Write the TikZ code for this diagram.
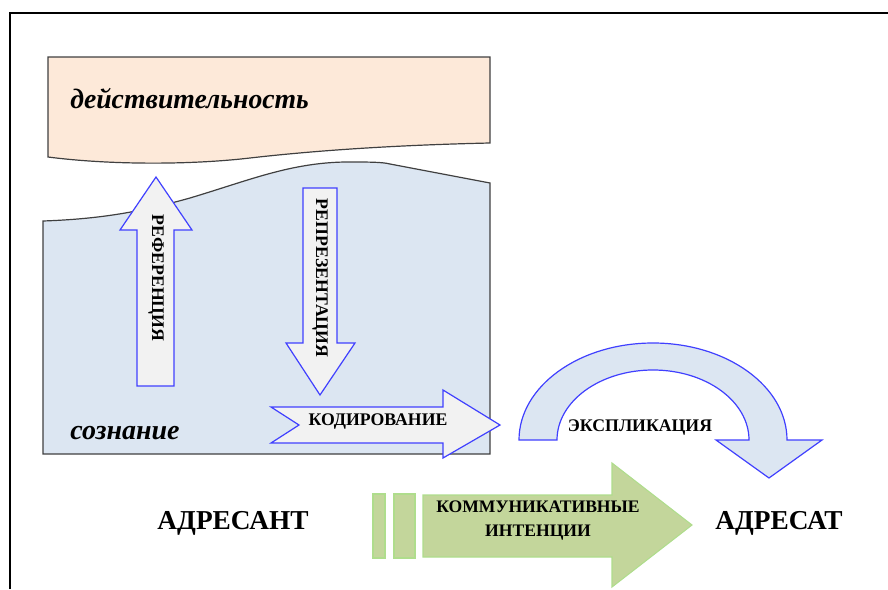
\documentclass[tikz,border=0pt]{standalone}
\usepackage{fontspec}
\setmainfont{Liberation Serif}
\begin{document}
\begin{tikzpicture}[x=0.75pt,y=-0.75pt,
  zone/.style={draw=black!75,line width=0.9pt},
  barrow/.style={draw=blue!75!white,line width=0.9pt,fill=black!5},
  garrow/.style={draw=green!40!olive!45,line width=0.8pt,fill=ggreen},
  lbl/.style={font=\bfseries\fontsize{13.3}{15}\selectfont,inner sep=0pt},
  big/.style={font=\bfseries\fontsize{20.5}{24}\selectfont,inner sep=0pt},
  ital/.style={font=\bfseries\itshape\fontsize{21}{25}\selectfont,inner sep=0pt}]
\definecolor{peach}{RGB}{253,233,217}
\definecolor{lblue}{RGB}{220,230,242}
\definecolor{ggreen}{RGB}{195,214,155}
\useasboundingbox (0,0) rectangle (888,589);
% frame
\draw[line width=1.5pt] (10,589) -- (10,13) -- (888,13);
% reality
\path[zone,fill=peach] (48,57) -- (490,57) -- (490,143)
  .. controls (400,145) and (320,150) .. (250,158)
  .. controls (190,165) and (110,165) .. (48,157) -- cycle;
\node[ital,anchor=west] (real) at (70,99) {\scalebox{0.99}[1]{действительность}};
% consciousness
\path[zone,fill=lblue] (43,221)
  .. controls (100,219) and (140,212) .. (190,198)
  .. controls (250,180) and (290,163) .. (345,162)
  .. controls (370,162) and (382,162) .. (390,164)
  -- (490,183) -- (490,454) -- (43,454) -- cycle;
\node[ital,anchor=west] (cons) at (70,433) {сознание};
% reference arrow (up)
\path[barrow] (137,386) -- (137,230) -- (120,230) -- (156,177) -- (192,230) -- (174,230) -- (174,386) -- cycle;
\node[lbl,rotate=-90] (ref) at (156,278) {РЕФЕРЕНЦИЯ};
% representation arrow (down)
\path[barrow] (303,188) -- (337,188) -- (337,343) -- (355,343) -- (320,395) -- (286,343) -- (303,343) -- cycle;
\node[lbl,rotate=-90] (rep) at (320,278) {РЕПРЕЗЕНТАЦИЯ};
% coding arrow
\path[barrow] (271,407) -- (443,407) -- (443,390) -- (500,425) -- (443,458) -- (443,443) -- (271,443) -- (299,425) -- cycle;
\node[lbl] (cod) at (378,422) {КОДИРОВАНИЕ};
% explication curved arrow
\path[barrow,fill=lblue] (519,440) arc[start angle=180,end angle=360,x radius=134,y radius=97]
  -- (822,440) -- (769,478) -- (716,440) -- (749,440)
  arc[start angle=360,end angle=180,x radius=96,y radius=70] -- cycle;
\node[lbl] (expl) at (640,428) {ЭКСПЛИКАЦИЯ};
% green arrow
\path[garrow] (373,494) rectangle (385,558);
\path[garrow] (394,494) rectangle (415,558);
\path[garrow] (423,495) -- (612,495) -- (612,463) -- (692,525) -- (612,587) -- (612,557) -- (423,557) -- cycle;
\node[lbl,align=center,font=\bfseries\fontsize{13.2}{18}\selectfont] (comm) at (538,521) {КОММУНИКАТИВНЫЕ\\ИНТЕНЦИИ};
% participants
\node[big] (adr) at (233,523) {АДРЕСАНТ};
\node[big] (adt) at (779,523) {АДРЕСАТ};
\end{tikzpicture}
\end{document}
